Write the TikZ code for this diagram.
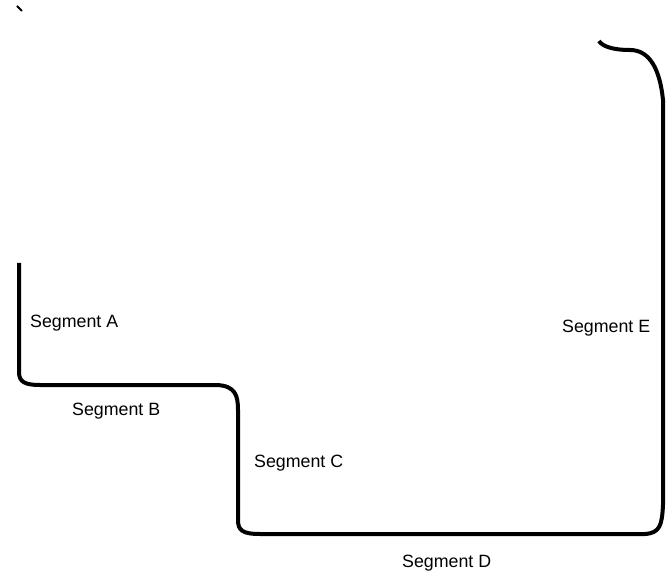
\documentclass[tikz,border=0pt]{standalone}
\usepackage{fontspec}
\setmainfont{Liberation Sans}
\begin{document}
\begin{tikzpicture}[x=1pt,y=-1pt,
  seg/.style={line width=4pt,line join=round,line cap=butt},
  lbl/.style={font=\fontsize{17.8}{20}\selectfont,anchor=base west,inner sep=0pt}]
\useasboundingbox (0,0) rectangle (670,580);
\draw[line width=2pt] (17,6) -- (22,11);
\draw[seg] (19,263) -- (19,372) .. controls (19,382) and (25,385) .. (40,385)
  -- (217,385) .. controls (235,386) and (238,395) .. (238,410)
  -- (238,520) .. controls (238,530) and (242,534) .. (260,534)
  -- (645,534) .. controls (660,533) and (662,525) .. (663,505)
  -- (663,100) .. controls (660,70) and (650,50) .. (630,50)
  .. controls (612,50) and (602,46) .. (599,41);
\node[lbl] (a) at (30,327) {Segment A};
\node[lbl] (b) at (72,415) {Segment B};
\node[lbl] (c) at (254,467) {Segment C};
\node[lbl] (d) at (402,567) {Segment D};
\node[lbl] (e) at (562,333) {Segment E};
\end{tikzpicture}
\end{document}
